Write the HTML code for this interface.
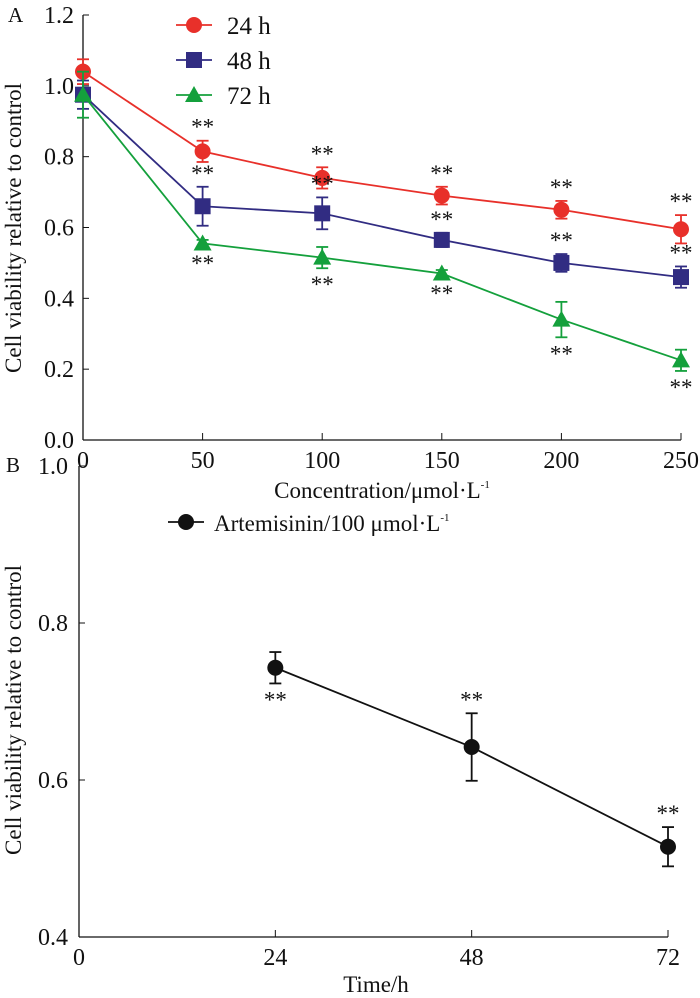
<!DOCTYPE html>
<html><head><meta charset="utf-8"><style>
body{margin:0;background:#fff}
svg text{font-family:"Liberation Serif",serif;fill:#111}
</style></head><body>
<svg id="chart" width="700" height="993" viewBox="0 0 700 993" xmlns="http://www.w3.org/2000/svg"></svg>
<script>
const concA=[0,50,100,150,200,250];
const v24=[1.04,0.815,0.74,0.69,0.65,0.595];
const e24=[0.035,0.03,0.03,0.025,0.025,0.04];
const v48=[0.975,0.66,0.64,0.565,0.50,0.46];
const e48=[0.04,0.055,0.045,0.02,0.025,0.03];
const v72=[0.975,0.555,0.515,0.47,0.34,0.225];
const e72=[0.065,0.01,0.03,0.01,0.05,0.03];
const yTicksA=["0.0","0.2","0.4","0.6","0.8","1.0","1.2"];
const timeB=[24,48,72];
const vB=[0.743,0.642,0.515];
const eB=[0.02,0.043,0.025];
const xTicksB=[0,24,48,72];
const yTicksB=["0.4","0.6","0.8","1.0"];
const NS="http://www.w3.org/2000/svg";
const svg=document.getElementById('chart');
const FS=24;
function mk(tag,at,txt,parent){const e=document.createElementNS(NS,tag);for(const k in at)e.setAttribute(k,at[k]);if(txt!=null)e.textContent=txt;(parent||svg).appendChild(e);return e;}
function supText(x,y,anchor,main,name){const t=mk('text',{x:x,y:y,'font-size':23,'text-anchor':anchor});
 
 mk('tspan',{},main,t);mk('tspan',{dy:-10,'font-size':11},'-1',t);return t;}
const xA=v=>83+v*(681-83)/250, yA=v=>440-v*(440-15)/1.2;
let e;
e=mk('line',{x1:83,y1:15,x2:83,y2:440,stroke:'#111','stroke-width':1.3});

e=mk('line',{x1:83,y1:440,x2:681,y2:440,stroke:'#111','stroke-width':1.3});

yTicksA.forEach(t=>{const y=yA(+t);mk('line',{x1:83,y1:y,x2:89,y2:y,stroke:'#111'});
e=mk('text',{x:74,y:y+8,'font-size':FS,'text-anchor':'end'},t);});
concA.forEach(c=>{const x=xA(c);mk('line',{x1:x,y1:440,x2:x,y2:433,stroke:'#111'});
e=mk('text',{x:x,y:468,'font-size':FS,'text-anchor':'middle'},c);});
supText(382,498,'middle','Concentration/μmol·L','x-axis-title-a');
e=mk('text',{x:0,y:0,'font-size':23,'text-anchor':'middle',transform:'translate(21,228) rotate(-90)'},'Cell viability relative to control');
e=mk('text',{x:8,y:22,'font-size':21},'A');
function marker(shape,x,y,c,s){
 if(shape==='c')return mk('circle',{cx:x,cy:y,r:s,fill:c});
 if(shape==='s')return mk('rect',{x:x-s,y:y-s,width:2*s,height:2*s,fill:c});
 return mk('polygon',{points:`${x},${y-s-1} ${x-s-1},${y+s-1} ${x+s+1},${y+s-1}`,fill:c});}
function series(xs,vs,es,col,shape,xf,yf,name,starDir,skipFirst){
 let pts=xs.map((c,i)=>xf(c)+','+yf(vs[i])).join(' ');
 e=mk('polyline',{points:pts,fill:'none',stroke:col,'stroke-width':1.8});
 xs.forEach((c,i)=>{const x=xf(c),y=yf(vs[i]),y1=yf(vs[i]+es[i]),y2=yf(vs[i]-es[i]);
  mk('line',{x1:x,y1:y1,x2:x,y2:y2,stroke:col,'stroke-width':1.8});
  mk('line',{x1:x-6,y1:y1,x2:x+6,y2:y1,stroke:col,'stroke-width':1.8});
  mk('line',{x1:x-6,y1:y2,x2:x+6,y2:y2,stroke:col,'stroke-width':1.8});
  e=marker(shape,x,y,col,8);
  if(!(skipFirst&&i===0)){const d=starDir[i]||starDir[0];
   const ty=d<0?y1-6:y2+24;
   e=mk('text',{x:x,y:ty,'font-size':23,'text-anchor':'middle'},'**');}
 });}
series(concA,v24,e24,'#e8302a','c',xA,yA,'series-24h',[-1],true);
series(concA,v48,e48,'#312c82','s',xA,yA,'series-48h',[-1],true);
series(concA,v72,e72,'#14a03c','t',xA,yA,'series-72h',[1],true);
[['24 h','#e8302a','c'],['48 h','#312c82','s'],['72 h','#14a03c','t']].forEach((l,i)=>{const y=25+i*35;
 mk('line',{x1:176,y1:y,x2:212,y2:y,stroke:l[1],'stroke-width':1.8});
 e=marker(l[2],194,y,l[1],8);
 e=mk('text',{x:227,y:y+9,'font-size':25},l[0]);});
const xB=v=>79+v*(668-79)/72, yB=v=>937-(v-0.4)*(937-466)/0.6;
e=mk('line',{x1:79,y1:466,x2:79,y2:937,stroke:'#111','stroke-width':1.3});
e=mk('line',{x1:79,y1:937,x2:668,y2:937,stroke:'#111','stroke-width':1.3});
yTicksB.forEach(t=>{const y=yB(+t);mk('line',{x1:79,y1:y,x2:85,y2:y,stroke:'#111'});
e=mk('text',{x:68,y:y+8,'font-size':FS,'text-anchor':'end'},t);});
xTicksB.forEach(c=>{const x=xB(c);mk('line',{x1:x,y1:937,x2:x,y2:930,stroke:'#111'});
e=mk('text',{x:x,y:965,'font-size':FS,'text-anchor':'middle'},c);});
e=mk('text',{x:376,y:992,'font-size':23,'text-anchor':'middle'},'Time/h');
e=mk('text',{x:0,y:0,'font-size':23,'text-anchor':'middle',transform:'translate(21,710) rotate(-90)'},'Cell viability relative to control');
e=mk('text',{x:6,y:472,'font-size':21},'B');
series(timeB,vB,eB,'#111','c',xB,yB,'series-artemisinin',[1,-1,-1],false);
mk('line',{x1:168,y1:522,x2:204,y2:522,stroke:'#111','stroke-width':1.8});
e=marker('c',186,522,'#111',8);
supText(214,531,'start','Artemisinin/100 μmol·L','legend-entry');
</script>
</body></html>
